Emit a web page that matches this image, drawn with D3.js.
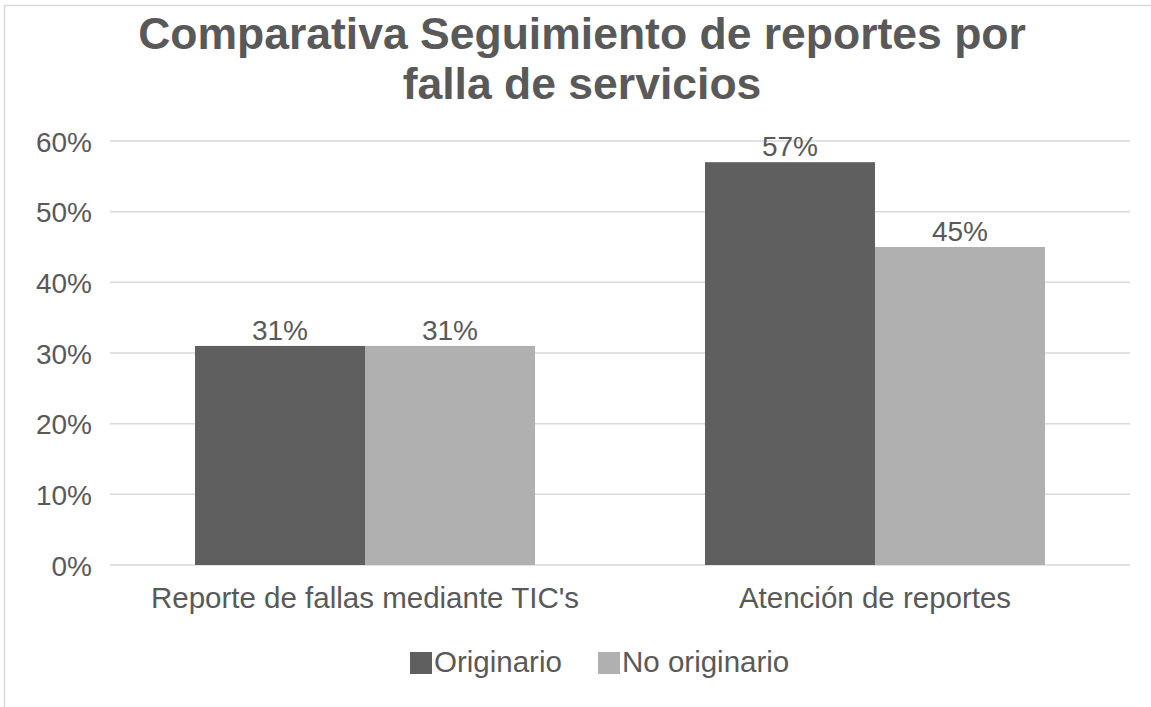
<!DOCTYPE html>
<html>
<head>
<meta charset="utf-8">
<script src="https://cdn.jsdelivr.net/npm/d3@7"></script>
<style>
  body { margin: 0; background: #fff; }
  text { font-family: "Liberation Sans", Arial, sans-serif; fill: #595959; }
</style>
</head>
<body>
<div id="chart"></div>
<script>
// data
var categories = ["Reporte de fallas mediante TIC's", "Atención de reportes"];
var seriesNames = ["Originario", "No originario"];
var originario = [0.31, 0.57];
var noOriginario = [0.31, 0.45];
var yTicks = [0, 0.1, 0.2, 0.3, 0.4, 0.5, 0.6];
var titleLines = ["Comparativa Seguimiento de reportes por", "falla de servicios"];

var colors = ["#5f5f5f", "#b0b0b0"];

var width = 1151, height = 707;
var svg = d3.select("#chart").append("svg")
    .attr("width", width)
    .attr("height", height);

// chart frame (right/bottom edges fall outside the picture)
svg.append("rect")
    .attr("x", 4.5).attr("y", 5.5)
    .attr("width", 1200).attr("height", 800)
    .attr("fill", "none")
    .attr("stroke", "#d9d9d9")
    .attr("stroke-width", 1.5);

// title
svg.append("g").selectAll("text")
    .data(titleLines)
    .enter().append("text")
    .attr("x", 582)
    .attr("y", function(d, i) { return 49 + i * 50; })
    .attr("text-anchor", "middle")
    .style("font-size", "44.5px")
    .style("font-weight", "bold")
    .text(function(d) { return d; });

var plotLeft = 110, plotRight = 1130, plotTop = 141, plotBottom = 565;

var y = d3.scaleLinear().domain([0, 0.6]).range([plotBottom, plotTop]);
var x0 = d3.scaleBand().domain(categories).range([plotLeft, plotRight]).paddingInner(1/3).paddingOuter(1/6);
var x1 = d3.scaleBand().domain(seriesNames).range([0, x0.bandwidth()]);

// gridlines
svg.append("g").selectAll("line")
    .data(yTicks)
    .enter().append("line")
    .attr("x1", plotLeft).attr("x2", plotRight)
    .attr("y1", function(d) { return y(d); })
    .attr("y2", function(d) { return y(d); })
    .attr("stroke", "#d9d9d9")
    .attr("stroke-width", 1.5);

// y axis labels
var yAxis = d3.axisLeft(y)
    .tickValues(yTicks)
    .tickFormat(d3.format(".0%"))
    .tickSize(0)
    .tickPadding(0);

var yg = svg.append("g")
    .attr("transform", "translate(92,0)")
    .call(yAxis);
yg.select(".domain").remove();
yg.selectAll("text")
    .style("font-size", "28px")
    .style("font-family", "'Liberation Sans', Arial, sans-serif")
    .attr("fill", "#595959")
    .attr("dy", "0.36em");

// bars
var rows = categories.map(function(c, i) {
    return { cat: c, values: [
        { name: seriesNames[0], v: originario[i] },
        { name: seriesNames[1], v: noOriginario[i] }
    ]};
});

var groups = svg.append("g").selectAll("g")
    .data(rows)
    .enter().append("g")
    .attr("transform", function(d) { return "translate(" + x0(d.cat) + ",0)"; });

groups.selectAll("rect")
    .data(function(d) { return d.values; })
    .enter().append("rect")
    .attr("x", function(d) { return x1(d.name); })
    .attr("width", x1.bandwidth())
    .attr("y", function(d) { return y(d.v); })
    .attr("height", function(d) { return plotBottom - y(d.v); })
    .attr("fill", function(d, i) { return colors[i]; });

groups.selectAll("text")
    .data(function(d) { return d.values; })
    .enter().append("text")
    .attr("x", function(d) { return x1(d.name) + x1.bandwidth() / 2; })
    .attr("y", function(d) { return y(d.v) - 6; })
    .attr("text-anchor", "middle")
    .style("font-size", "28px")
    .text(function(d) { return Math.round(d.v * 100) + "%"; });

// x axis labels
var xAxis = d3.axisBottom(x0).tickSize(0).tickPadding(0);
var xg = svg.append("g")
    .attr("transform", "translate(0," + plotBottom + ")")
    .call(xAxis);
xg.select(".domain").remove();
xg.selectAll("text")
    .style("font-size", "29.5px")
    .style("font-family", "'Liberation Sans', Arial, sans-serif")
    .attr("fill", "#595959")
    .attr("dy", null)
    .attr("y", 43);

// legend
var legendX = [410, 598];
var legend = svg.append("g").selectAll("g")
    .data(seriesNames)
    .enter().append("g")
    .attr("transform", function(d, i) { return "translate(" + legendX[i] + ",652)"; });

legend.append("rect")
    .attr("width", 22).attr("height", 22)
    .attr("fill", function(d, i) { return colors[i]; });

legend.append("text")
    .attr("x", 24)
    .attr("y", 20)
    .style("font-size", "29.5px")
    .text(function(d) { return d; });
</script>
</body>
</html>
